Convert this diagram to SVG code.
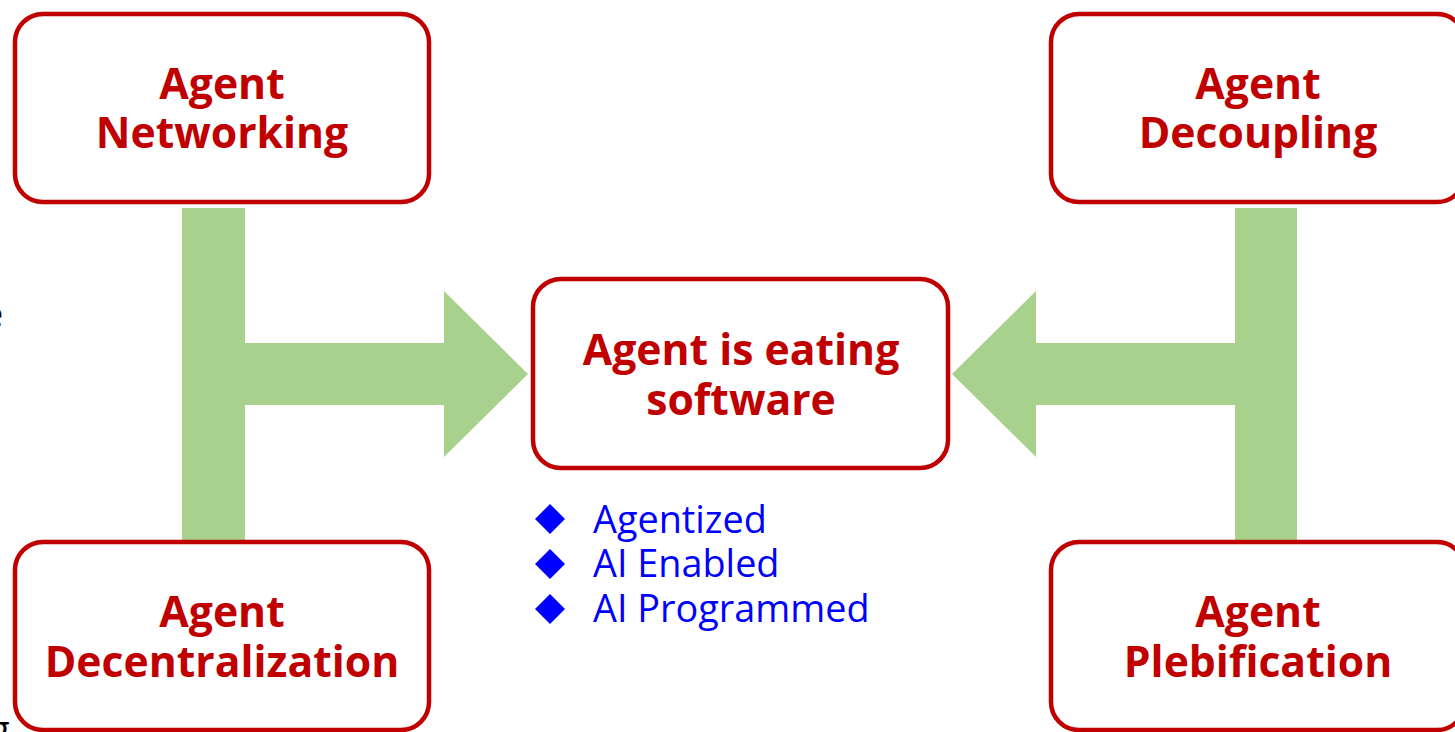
<svg xmlns="http://www.w3.org/2000/svg" width="1455" height="732" viewBox="0 0 1455 732">
  <style>
    .box { fill: #FFFFFF; stroke: #C00000; stroke-width: 4.5; }
    .title { font-family: "Open Sans", "Liberation Sans", sans-serif; font-weight: 700; font-size: 42.7px; fill: #C00000; text-anchor: middle; }
    .flow { fill: #A9D18E; stroke: none; }
    .item { font-family: "Open Sans", "Liberation Sans", sans-serif; font-size: 37.8px; fill: #0000FF; }
    .bullet { fill: #0000FF; }
    .edge { font-family: "Open Sans", "Liberation Sans", sans-serif; font-size: 36px; fill: #000000; }
  </style>

  <rect width="1455" height="732" fill="#FFFFFF"/>

  <!-- partial labels running off the left edge -->
  <text class="edge" x="-17" y="327">e</text>
  <text class="edge" x="-10" y="742">g</text>

  <!-- T-shaped flow arrows feeding the centre box -->
  <g id="connectors">
    <path class="flow" d="M182,208 H245 V343 H444 V291 L528,374 L444,457 V405 H245 V540 H182 Z"/>
    <path class="flow" d="M1297,208 H1235 V343 H1036 V291 L952,374 L1036,457 V405 H1235 V540 H1297 Z"/>
  </g>

  <g id="agent-networking">
    <rect class="box" x="15" y="14" width="414" height="188" rx="28"/>
    <text class="title" x="222" y="99">Agent</text>
    <text class="title" x="222" y="148">Networking</text>
  </g>

  <g id="agent-decoupling">
    <rect class="box" x="1051" y="14" width="414" height="188" rx="28"/>
    <text class="title" x="1258" y="99">Agent</text>
    <text class="title" x="1258" y="148">Decoupling</text>
  </g>

  <g id="agent-decentralization">
    <rect class="box" x="15" y="542" width="414" height="188" rx="28"/>
    <text class="title" x="222" y="627">Agent</text>
    <text class="title" x="222" y="677">Decentralization</text>
  </g>

  <g id="agent-plebification">
    <rect class="box" x="1051" y="542" width="414" height="188" rx="28"/>
    <text class="title" x="1258" y="627">Agent</text>
    <text class="title" x="1258" y="677">Plebification</text>
  </g>

  <g id="agent-eating-software">
    <rect class="box" x="533" y="279" width="415" height="189" rx="28"/>
    <text class="title" x="741" y="365">Agent is eating</text>
    <text class="title" x="741" y="415">software</text>
  </g>

  <g id="traits">
    <path class="bullet" d="M550,504 L565,519 L550,534 L535,519 Z"/>
    <text class="item" x="593" y="533">Agentized</text>
    <path class="bullet" d="M550,549 L565,564 L550,579 L535,564 Z"/>
    <text class="item" x="593" y="577">AI Enabled</text>
    <path class="bullet" d="M550,594 L565,609 L550,624 L535,609 Z"/>
    <text class="item" x="593" y="622">AI Programmed</text>
  </g>
</svg>
